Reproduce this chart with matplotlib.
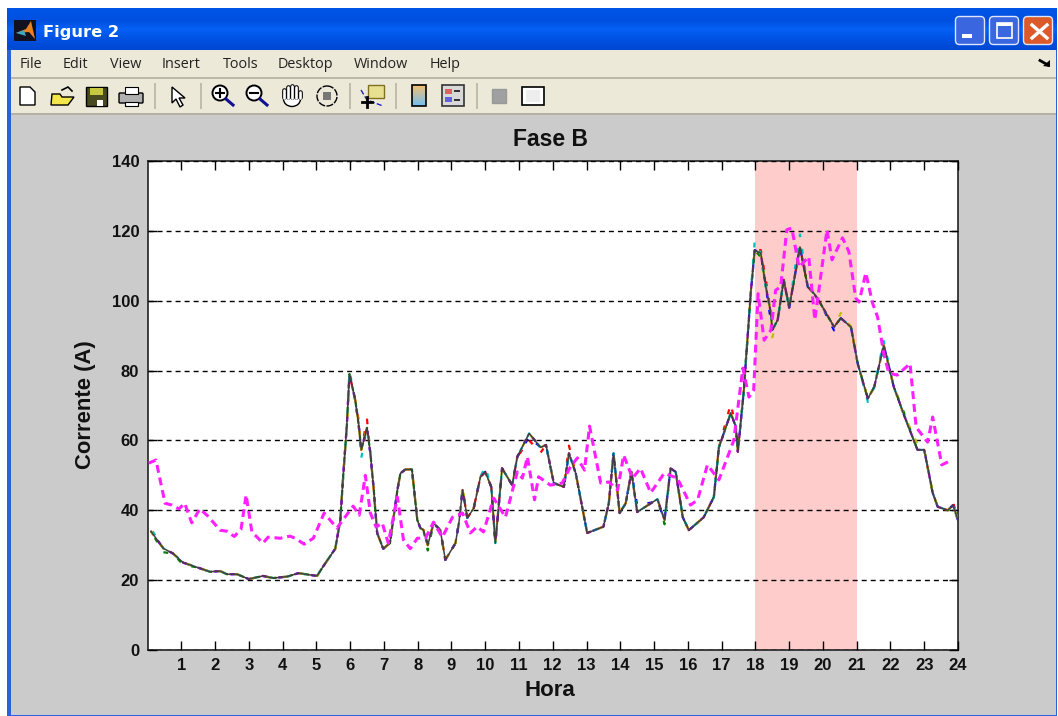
import numpy as np
import matplotlib
matplotlib.use("Agg")
import matplotlib.pyplot as plt
from matplotlib.patches import Rectangle, FancyBboxPatch, Polygon, Circle, Ellipse

# ---------- data ----------
title = "Fase B"
xlabel = "Hora"
ylabel = "Corrente (A)"
menu_items = ["File", "Edit", "View", "Insert", "Tools", "Desktop", "Window", "Help"]
x_ticks = list(range(1, 25))
y_ticks = [0, 20, 40, 60, 80, 100, 120, 140]
peak_start, peak_end = 18, 21

main_hours = [0.1,0.47,0.76,1.06,1.46,1.85,2.15,2.35,2.65,3.0,3.42,3.72,4.13,4.47,5.02,5.2,5.56,5.71,5.8,5.9,
              5.98,6.15,6.25,6.33,6.5,6.6,6.7,6.8,6.98,7.18,7.4,7.49,7.64,7.83,7.99,8.08,8.17,8.3,8.47,8.67,
              8.82,9.12,9.22,9.33,9.47,9.66,9.86,10.0,10.18,10.3,10.5,10.8,10.95,11.3,11.64,11.8,12.03,12.33,12.48,12.68,
              13.02,13.5,13.66,13.8,13.98,14.16,14.33,14.5,15.1,15.31,15.49,15.64,15.85,16.03,16.47,16.77,16.92,17.27,17.42,17.48,
              17.66,17.72,17.87,17.98,18.16,18.31,18.46,18.5,18.66,18.84,19.0,19.32,19.55,19.74,19.94,20.33,20.53,20.83,21.03,21.33,
              21.52,21.8,22.1,22.4,22.8,23.0,23.25,23.4,23.7,23.85,24.0]
main_values = [34,29.1,27.6,25,23.7,22.4,22.6,21.7,21.7,20.3,21.2,20.6,21,22,21.2,23.9,29,37.2,50.5,64,
               79,71.6,64.8,57.3,63.6,56.3,45.8,33.5,29,30.6,45.8,50.6,51.7,51.7,37.2,34.9,34.4,30,36.3,34.3,
               25.8,30.6,36.3,45.8,37.8,40.6,49.6,51,46.7,30.6,52,47.2,55.3,62,58,58.7,47.8,46.7,56.3,50.6,
               33.5,35.3,42,56.3,39.2,42,51,39.5,43.2,37.2,52,51,38,34.3,38,43.8,58,67.8,64,56.7,
               74.4,83,103,114.5,113.6,104,96.4,91.6,94.5,106,98,115.4,104,102,99,92.5,95,92.5,82,72,
               75.3,87.3,75.3,67.3,57.3,57.3,45,41,40,41.5,37.2]

# hours at which a coloured trace visibly departs from the dark one, and its value there
red_hours = [6.5, 6.25, 11.3, 11.64, 12.48, 17.27, 18.16, 18.31, 23.85]
red_values = [66, 66, 60, 56.5, 58.5, 70.5, 114.5, 106, 42.5]
blue_hours = [11.3, 14.5, 15.1, 18.46, 20.33]
blue_values = [61, 41.5, 42.5, 94, 91.5]
green_hours = [0.47, 1.06, 8.3, 15.31, 22.4, 18.16]
green_values = [28, 24.3, 28.5, 36, 68, 112.5]
cyan_hours = [0.1, 6.33, 5.98, 10.0, 17.98, 19.32, 21.8, 21.33]
cyan_values = [34.8, 55, 80, 52.5, 117, 119, 88.5, 71]
yellow_hours = [5.98, 9.33, 18.5, 20.53, 22.8]
yellow_values = [74, 47, 89.5, 96.5, 59]

mag_hours = [0.04,0.25,0.52,0.72,0.93,1.1,1.31,1.55,1.76,2.15,2.35,2.57,2.77,2.92,3.09,3.42,3.57,3.93,4.22,4.37,
             4.64,4.91,5.23,5.61,6.09,6.27,6.45,6.6,6.77,6.95,7.13,7.4,7.58,7.78,7.99,8.23,8.47,8.73,9.03,9.33,
             9.56,9.76,9.95,10.25,10.6,10.95,11.1,11.25,11.46,11.58,11.93,12.28,12.52,12.73,12.94,13.09,13.42,13.66,13.92,14.1,
             14.36,14.6,14.9,15.3,15.69,16.08,16.29,16.58,16.92,17.36,17.63,17.81,17.95,18.08,18.26,18.46,18.6,18.75,18.93,19.08,
             19.29,19.58,19.76,19.88,20.12,20.27,20.58,20.77,20.97,21.07,21.27,21.47,21.62,21.8,21.95,22.2,22.58,22.76,23.1,23.25,
             23.52,23.82]
mag_values = [53.5,54.4,42,41.5,40.4,42,36.4,40.4,38.6,34.3,34,32.5,34.6,44.4,33.8,30.6,32.3,32,32.6,32,
              30.3,32,39.2,34.9,41.2,38.6,50,39.2,35.2,36.4,30.6,43.8,31.5,29,32,32,36.6,32.3,38,39.2,
              33.5,35.3,33.8,43.5,38,51,49.2,55.3,43,49.6,47.2,47.8,52.4,55,51.5,64.1,47.8,48.1,45.8,55.8,
              49.2,52,45,50.6,49.2,41.5,43,53,48.7,60,80.7,72.4,74.4,102,88.7,91.6,103,104,120.3,120.8,
              109.6,112.6,94.5,103,120.3,111.7,118,114,100.8,99.6,108,99.3,95.3,85,79.3,78.7,82,63.8,59.5,66.7,
              53,54.4]

W, H = 1058, 716
fig = plt.figure(figsize=(W / 100, H / 100), dpi=100, facecolor="white")
plt.rcParams["font.family"] = ["Liberation Sans", "DejaVu Sans"]

# ---------- window chrome, drawn in pixel coordinates ----------
bg = fig.add_axes([0, 0, 1, 1], zorder=0)
bg.set_xlim(0, W); bg.set_ylim(H, 0); bg.axis("off")
def rect(x, y, w, h, c, z=1, **k):
    bg.add_patch(Rectangle((x, y), w, h, fc=c, ec=k.pop("ec", "none"), lw=k.pop("lw", 0), zorder=z, **k))

rect(7, 8, 1050, 708, "#2A62DC", 1)
grad = np.array([[0.0, 0.33, 0.90], [0.0, 0.31, 0.88], [0.02, 0.38, 0.96], [0.0, 0.33, 0.90], [0.0, 0.29, 0.84]])[:, None, :]
bg.imshow(grad, extent=(7, 1057, 50, 8), aspect="auto", zorder=1.2, interpolation="bilinear")
bg.set_xlim(0, W); bg.set_ylim(H, 0)
rect(11, 50, 1045, 665, "#CBCBCB", 2)
rect(11, 50, 1045, 27, "#ECE9D8", 3)
rect(11, 77, 1045, 1.5, "#BDB9A8", 3.1)
rect(11, 79, 1045, 34, "#ECE9D8", 3)
rect(11, 113, 1045, 2, "#B5B2A5", 3.1)

# title bar icon and text
rect(14, 20, 22, 21, "#111122", 4)
bg.add_patch(Polygon([[16, 33], [26, 29], [31, 21], [35, 39], [29, 32]], fc="#E8821E", ec="none", zorder=5))
bg.add_patch(Polygon([[16, 33], [24, 30], [26, 36]], fc="#3FA7C0", ec="none", zorder=5))
bg.text(43, 37, "Figure 2", color="white", fontsize=11.7, fontweight="bold", family=["DejaVu Sans"], va="baseline", zorder=5)

# window buttons
for x0, c in [(955, "#3A66E0"), (989, "#3A66E0"), (1023, "#DC5A2A")]:
    bg.add_patch(FancyBboxPatch((x0 + 2, 18), 26, 25, boxstyle="round,pad=1.5,rounding_size=4", fc=c, ec="#DDE6FA", lw=1, zorder=5))
rect(962, 34, 10, 4, "white", 6)
bg.add_patch(Rectangle((997, 23), 15, 15, fc="none", ec="white", lw=1.2, zorder=6)); rect(997, 23, 15, 3, "white", 6)
bg.plot([1032, 1047], [25, 38], color="white", lw=2.4, zorder=6)
bg.plot([1047, 1032], [25, 38], color="white", lw=2.4, zorder=6)

# menu
menu_x = [19.5, 63, 109.5, 161.5, 223, 278, 354, 430]
for lab, x0 in zip(menu_items, menu_x):
    bg.text(x0, 68, lab, fontsize=10.4, family=["Open Sans", "DejaVu Sans"], color="#222222", va="baseline", zorder=5)
bg.plot([1040, 1048], [60.5, 65], color="black", lw=2, zorder=5)
bg.add_patch(Polygon([[1050, 67], [1050, 60], [1043, 66]], fc="black", ec="none", zorder=5))

# toolbar separators
for x0 in [154, 200, 349, 395, 476]:
    rect(x0, 83, 1.5, 26, "#C0BDAE", 5)

# new, open, save, print
bg.add_patch(Polygon([[20, 87], [30, 87], [35, 92], [35, 105], [20, 105]], fc="white", ec="black", lw=1, zorder=5))
bg.add_patch(Polygon([[52, 94], [60, 94], [62, 97], [74, 97], [68, 105], [51, 105]], fc="#F2E64A", ec="black", lw=1, zorder=5))
bg.plot([62, 68, 72], [90, 87, 91], color="black", lw=1.2, zorder=5)
bg.add_patch(Rectangle((86, 87), 21, 19, fc="#4A4A20", ec="black", lw=1, zorder=5)); rect(90, 88, 13, 7, "#C8C840", 6); rect(97, 100, 6, 6, "white", 6)
bg.add_patch(FancyBboxPatch((120, 94), 22, 8, boxstyle="round,pad=1", fc="#B0B0B0", ec="black", lw=1, zorder=5))
bg.add_patch(Rectangle((125, 87), 13, 7, fc="white", ec="black", lw=.8, zorder=6)); bg.add_patch(Rectangle((125, 102), 13, 4, fc="white", ec="black", lw=.8, zorder=6))
# pointer
bg.add_patch(Polygon([[172, 87], [172, 103], [176, 99], [180, 107], [183, 105], [179, 98], [185, 98]], fc="white", ec="black", lw=1, zorder=5))
# zoom in / out
for cx, plus in [(220, True), (254, False)]:
    bg.add_patch(Circle((cx, 93), 7.5, fc="white", ec="black", lw=1.4, zorder=5))
    bg.plot([cx + 6, cx + 13], [99, 105], color="#101090", lw=2.2, zorder=5)
    bg.plot([cx - 4, cx + 4], [93, 93], color="black", lw=1.5, zorder=6)
    if plus:
        bg.plot([cx, cx], [89, 97], color="black", lw=1.5, zorder=6)
# hand
bg.add_patch(Ellipse((292, 99), 17, 15, fc="white", ec="black", lw=1, zorder=5))
for fx, ftop in [(284, 90), (288, 87), (292, 86), (296, 87), (300, 92)]:
    bg.plot([fx, fx], [ftop, 97], color="black", lw=3.4, solid_capstyle="round", zorder=5)
    bg.plot([fx, fx], [ftop, 98], color="white", lw=1.9, solid_capstyle="round", zorder=5.1)
# rotate
bg.add_patch(Circle((327, 96), 10, fc="none", ec="black", lw=1, ls=(0, (5, 1)), zorder=5)); rect(323, 92, 8, 8, "#777777", 6)
# data cursor
bg.add_patch(Rectangle((368, 85), 16, 13, fc="#E8DF90", ec="#807020", lw=1, zorder=5))
bg.plot([361, 367, 383], [90, 100, 106], color="#2020C0", lw=1, ls="--", zorder=5)
bg.plot([367, 367], [97, 107], color="black", lw=2, zorder=6); bg.plot([362, 372], [102, 102], color="black", lw=2, zorder=6)
# colorbar
bg.imshow(np.linspace([0.95, 0.75, 0.45], [0.45, 0.75, 0.95], 20)[:, None, :], extent=(412, 426, 106, 85), aspect="auto", zorder=5)
bg.set_xlim(0, W); bg.set_ylim(H, 0)
bg.add_patch(Rectangle((412, 85), 14, 21, fc="none", ec="black", lw=1.2, zorder=6))
# legend
bg.add_patch(Rectangle((442, 85), 22, 21, fc="#D8D8D8", ec="#333333", lw=1.2, zorder=5))
rect(445, 89, 7, 5, "#E06060", 6); rect(445, 97, 7, 5, "#6060E0", 6); rect(454, 90, 6, 1.5, "#333333", 6); rect(454, 99, 6, 1.5, "#333333", 6)
# plot tools
bg.add_patch(Rectangle((492, 89), 14, 14, fc="#A0A0A0", ec="#999999", lw=1, zorder=5))
bg.add_patch(Rectangle((522, 87), 22, 18, fc="white", ec="black", lw=1.2, zorder=5)); rect(526, 90, 14, 12, "#EEEEEE", 6)

# ---------- plot ----------
ax = fig.add_axes([147.5 / W, 1 - 650 / H, (958 - 147.5) / W, (650 - 161) / H], zorder=2, facecolor="white")
ax.axvspan(peak_start, peak_end, color="#FFCCCC", lw=0, zorder=1)
ax.yaxis.grid(True, color="black", lw=1.0, linestyle=(0, (3.6, 2.9)), zorder=2)
ax.set_axisbelow(False)

def trace(hours, values):
    d = dict(zip(main_hours, main_values))
    d.update(zip(hours, values))
    return [d[h] for h in main_hours]

coloured = [("#FF0000", red_hours, red_values, 0), ("#0000FF", blue_hours, blue_values, 2),
            ("#008000", green_hours, green_values, 4), ("#00BFBF", cyan_hours, cyan_values, 6),
            ("#BFBF00", yellow_hours, yellow_values, 8), ("#BF00BF", [], [], 10)]
for col, hs, vs, off in coloured:
    ax.plot(main_hours, trace(hs, vs), color=col, lw=1.6, linestyle=(off, (2.2, 5.3)), zorder=3)
ax.plot(main_hours, main_values, color="#404040", lw=1.1, zorder=4)
ax.plot(mag_hours, mag_values, color="#FF1FFF", lw=2.2, linestyle=(0, (2.6, 1.6)), zorder=5)

ax.set_xlim(0, 24); ax.set_ylim(0, 140)
ax.set_xticks(x_ticks); ax.set_yticks(y_ticks)
ax.tick_params(axis="both", direction="in", length=6.5, width=1.0, top=True, right=True, labelsize=12)
ax.tick_params(axis="x", pad=6); ax.tick_params(axis="y", pad=6)
for lab in ax.get_xticklabels() + ax.get_yticklabels():
    lab.set_fontweight("bold"); lab.set_family(["Liberation Sans"]); lab.set_color("#111111")
for s in ax.spines.values():
    s.set_linewidth(1.2); s.set_color("#222222")
fig.text(550.5 / W, 1 - 139 / H, title, fontsize=16.5, fontweight="bold", ha="center", va="center", color="#111111")
fig.text(550 / W, 1 - 690 / H, xlabel, fontsize=16, fontweight="bold", ha="center", va="center", color="#111111")
fig.text(86 / W, 1 - 405 / H, ylabel, fontsize=15.8, fontweight="bold", rotation=90, ha="center", va="center", color="#111111")

fig.savefig("out.png", dpi=100)
